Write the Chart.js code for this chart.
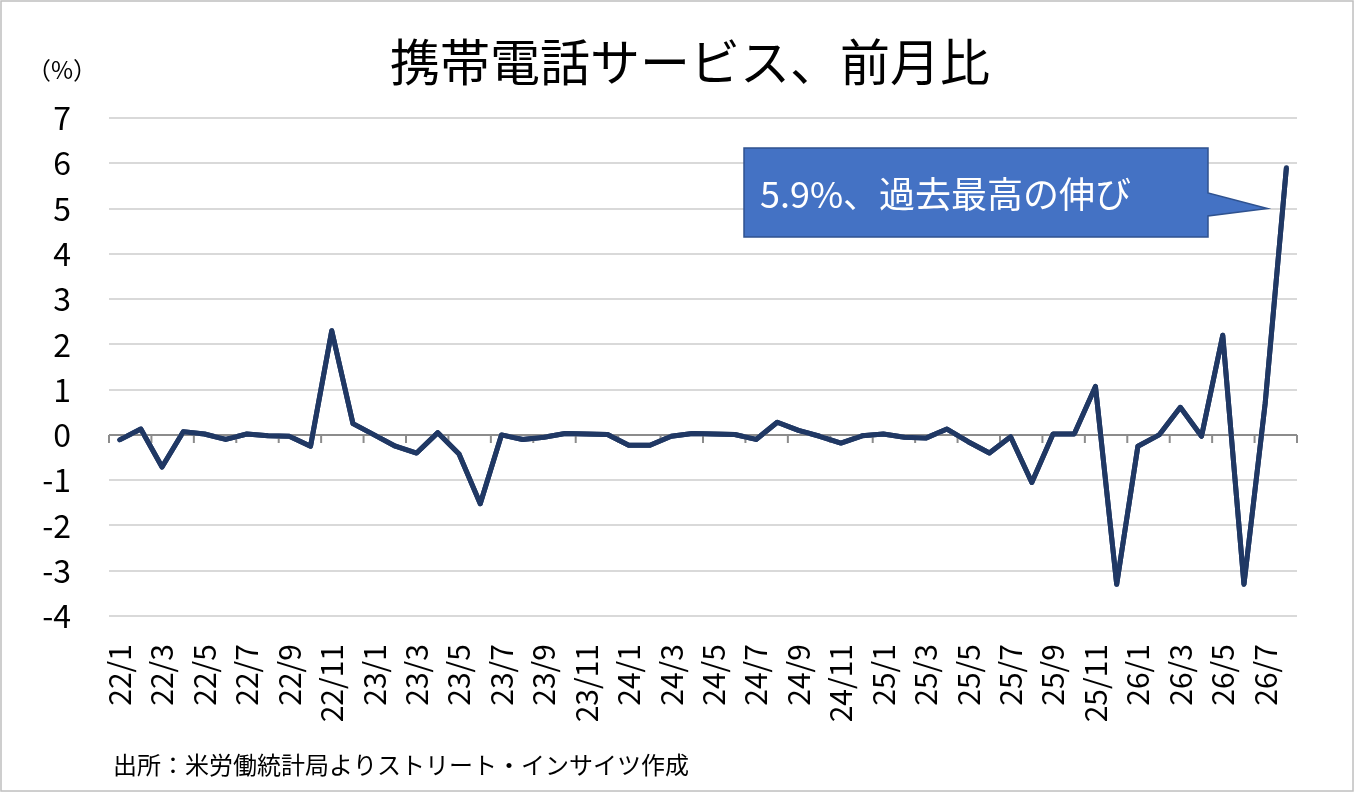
<!DOCTYPE html>
<html><head><meta charset="utf-8">
<script src="https://cdn.jsdelivr.net/npm/chart.js@4"></script>
<style>html,body{margin:0;padding:0;background:#fff}#wrap{width:1354px;height:792px;position:relative}</style>
</head><body><div id="wrap"><canvas id="c" width="1354" height="792"></canvas></div>
<script>
const titleText = '携帯電話サービス、前月比';
const unitText = '（%）';
const sourceText = '出所：米労働統計局よりストリート・インサイツ作成';
const calloutText = '5.9%、過去最高の伸び';
const categories = [];
const years = ['22','23','24','25','26'];
for (const y of years) for (let m = 1; m <= 12; m++) { if (y === '26' && m > 8) break; categories.push(y + '/' + m); }
const values = [
 -0.11, 0.13, -0.71, 0.07, 0.02, -0.1, 0.02, -0.02, -0.03, -0.25, 2.3, 0.25,
 0.0, -0.25, -0.4, 0.05, -0.42, -1.52, 0.0, -0.1, -0.05, 0.03, 0.02, 0.01,
 -0.23, -0.23, -0.03, 0.03, 0.02, 0.01, -0.1, 0.28, 0.1, -0.03, -0.18, -0.02,
 0.02, -0.05, -0.07, 0.13, -0.15, -0.4, -0.04, -1.05, 0.02, 0.02, 1.07, -3.3,
 -0.25, 0.0, 0.61, -0.03, 2.2, -3.3, 0.7, 5.9
];
const yTicks = [7,6,5,4,3,2,1,0,-1,-2,-3,-4];
const FONT = '"Noto Sans CJK JP", "Noto Sans", sans-serif';

const deco = {
  id: 'deco',
  beforeDraw(chart) {
    const c = chart.ctx;
    c.save(); c.fillStyle = '#fff'; c.fillRect(0,0,chart.width,chart.height); c.restore();
  },
  afterDatasetsDraw(chart) {
    const c = chart.ctx, x = chart.scales.x, y = chart.scales.y, a = chart.chartArea;
    c.save();
    const y0 = y.getPixelForValue(0);
    c.strokeStyle = '#8c8c8c'; c.lineWidth = 2;
    c.beginPath(); c.moveTo(a.left, y0); c.lineTo(a.right, y0);
    const step = (a.right - a.left) / categories.length;
    for (let i = 0; i <= categories.length; i += 2) {
      const px = a.left + i * step;
      c.moveTo(px, y0); c.lineTo(px, y0 + 8);
    }
    c.stroke();
    c.restore();
    const meta = chart.getDatasetMeta(0);
    c.save(); c.strokeStyle = '#203864'; c.lineWidth = 5; c.lineJoin = 'round'; c.lineCap = 'round';
    c.beginPath();
    meta.data.forEach((p, i) => { i ? c.lineTo(p.x, p.y) : c.moveTo(p.x, p.y); });
    c.stroke(); c.restore();
    const last = meta.data[meta.data.length - 1];
    const bx = 744, by = 148, bw = 464, bh = 89;
    const tipX = last.x - 19, tipY = y.getPixelForValue(5);
    c.save();
    c.fillStyle = '#4472C4'; c.strokeStyle = '#2F528F'; c.lineWidth = 1.5;
    c.beginPath();
    c.moveTo(bx, by); c.lineTo(bx + bw, by); c.lineTo(bx + bw, by + 45);
    c.lineTo(tipX, tipY); c.lineTo(bx + bw, by + 68);
    c.lineTo(bx + bw, by + bh); c.lineTo(bx, by + bh); c.closePath();
    c.fill(); c.stroke();
    c.fillStyle = '#fff'; c.font = '36px ' + FONT; c.textBaseline = 'middle'; c.textAlign = 'left';
    c.fillText(calloutText, bx + 16, by + bh / 2 + 2);
    c.fillStyle = '#000'; c.textAlign = 'center';
    c.font = '50px ' + FONT; c.fillText(titleText, 690, 62);
    c.font = '24px ' + FONT; c.fillText(unitText, 62, 70);
    c.textAlign = 'left'; c.font = '24px ' + FONT; c.fillText(sourceText, 113, 765);
    c.strokeStyle = '#bfbfbf'; c.lineWidth = 1.5;
    c.strokeRect(1, 1, chart.width - 2, chart.height - 2);
    c.restore();
  }
};

new Chart(document.getElementById('c'), {
  type: 'line',
  data: { labels: categories, datasets: [{ data: values, borderColor: '#203864', borderWidth: 5, pointRadius: 0, tension: 0, fill: false, borderJoinStyle: 'round' }] },
  options: {
    responsive: false, animation: false, devicePixelRatio: 1,
    layout: { padding: { left: 0, right: 57, top: 118, bottom: 0 } },
    plugins: { legend: { display: false }, tooltip: { enabled: false } },
    scales: {
      x: {
        offset: true,
        grid: { display: false }, border: { display: false },
        afterFit(s) { s.height = 176; },
        ticks: {
          autoSkip: false, minRotation: 90, maxRotation: 90, padding: 20,
          color: '#000', font: { family: FONT, size: 30 },
          callback(v, i) { return i % 2 === 0 ? categories[i] : ''; }
        }
      },
      y: {
        min: -4, max: 7,
        afterFit(s) { s.width = 109; },
        afterBuildTicks(s) { s.ticks = yTicks.map(v => ({ value: v })); },
        grid: { color: '#d9d9d9', lineWidth: 2, drawTicks: false },
        border: { display: false },
        ticks: { color: '#000', font: { family: FONT, size: 32 }, padding: 38 }
      }
    }
  },
  plugins: [deco]
});
</script></body></html>
